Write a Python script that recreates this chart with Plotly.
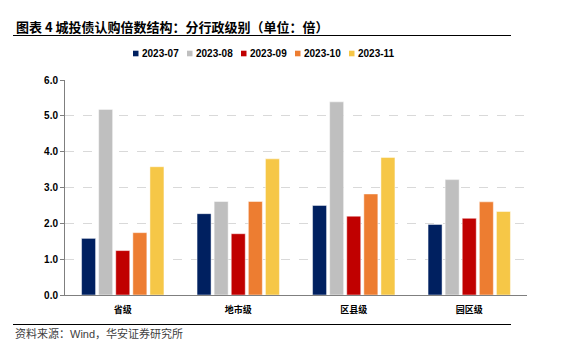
import plotly.graph_objects as go

categories = ["省级", "地市级", "区县级", "园区级"]
series_names = ["2023-07", "2023-08", "2023-09", "2023-10", "2023-11"]
v_2023_07 = [1.58, 2.27, 2.50, 1.97]
v_2023_08 = [5.18, 2.61, 5.39, 3.22]
v_2023_09 = [1.24, 1.71, 2.20, 2.14]
v_2023_10 = [1.74, 2.61, 2.82, 2.60]
v_2023_11 = [3.58, 3.80, 3.84, 2.33]
y_ticks = [0, 1, 2, 3, 4, 5, 6]
y_tick_labels = ["0.0", "1.0", "2.0", "3.0", "4.0", "5.0", "6.0"]

colors = ["#002060", "#BFBFBF", "#C00000", "#ED7D31", "#F6C747"]
values = [v_2023_07, v_2023_08, v_2023_09, v_2023_10, v_2023_11]

W, H = 562, 343
ML, MR, MT, MB = 65, 35, 80, 48

fig = go.Figure()
for name, vals, c in zip(series_names, values, colors):
    fig.add_trace(go.Bar(
        x=categories, y=vals, name=name,
        marker=dict(color=c, line=dict(color="rgba(255,255,255,0.8)", width=0.6)),
    ))

def px_x(px):
    return (px - ML) / (W - ML - MR)

def px_y(py):
    return (H - MB - py) / (H - MT - MB)

annotations = [
    dict(text="<b>图表 4 城投债认购倍数结构：分行政级别（单位：倍）</b>",
         xref="paper", yref="paper", x=px_x(14), y=px_y(27), xanchor="left", yanchor="middle",
         showarrow=False, font=dict(family="Noto Sans CJK SC", size=13, color="#000000")),
    dict(text="资料来源：<span style='font-family:Liberation Sans'>Wind</span>，华安证券研究所",
         xref="paper", yref="paper", x=px_x(13), y=px_y(333), xanchor="left", yanchor="middle",
         showarrow=False, font=dict(family="Noto Sans CJK SC", size=11, color="#404040")),
]
shapes = [
    dict(type="line", xref="paper", yref="paper", x0=px_x(13), x1=px_x(511), y0=px_y(35.5), y1=px_y(35.5),
         line=dict(color="#000000", width=1.2)),
    dict(type="line", xref="paper", yref="paper", x0=px_x(13), x1=px_x(511), y0=px_y(324.5), y1=px_y(324.5),
         line=dict(color="#000000", width=1.2)),
]

# custom compact legend
leg_x0, leg_pitch, leg_y = 133, 54, 53.5
for i, (name, c) in enumerate(zip(series_names, colors)):
    sx = leg_x0 + i * leg_pitch
    shapes.append(dict(type="rect", xref="paper", yref="paper",
                       x0=px_x(sx), x1=px_x(sx + 5.5), y0=px_y(leg_y + 2.8), y1=px_y(leg_y - 2.8),
                       fillcolor=c, line=dict(width=0)))
    annotations.append(dict(text="<b>" + name + "</b>", xref="paper", yref="paper",
                            x=px_x(sx + 6.5), y=px_y(leg_y), xanchor="left", yanchor="middle",
                            showarrow=False,
                            font=dict(family="Liberation Sans, Arial", size=10, color="#000000")))

fig.update_layout(
    width=W, height=H,
    margin=dict(l=ML, r=MR, t=MT, b=MB),
    paper_bgcolor="white", plot_bgcolor="white",
    barmode="group", bargap=0.26, bargroupgap=0.18,
    font=dict(family="Liberation Sans, Arial, Noto Sans CJK SC", size=10, color="#000000"),
    showlegend=False,
    xaxis=dict(
        showgrid=False, showline=True, linecolor="#7F7F7F", linewidth=1.2,
        ticks="", tickfont=dict(family="Noto Sans CJK SC", size=9, color="#000000", weight="bold"),
        ticklabelstandoff=6,
    ),
    yaxis=dict(
        range=[0, 6], tickvals=y_ticks, ticktext=y_tick_labels,
        showgrid=True, gridcolor="#D9D9D9", griddash="dash", gridwidth=1,
        showline=True, linecolor="#7F7F7F", linewidth=1,
        ticks="outside", ticklen=4, tickcolor="#7F7F7F",
        tickfont=dict(family="Liberation Sans, Arial", size=10, color="#000000", weight="bold"),
        zeroline=False,
    ),
    annotations=annotations,
    shapes=shapes,
)

fig.write_html("out.html")
